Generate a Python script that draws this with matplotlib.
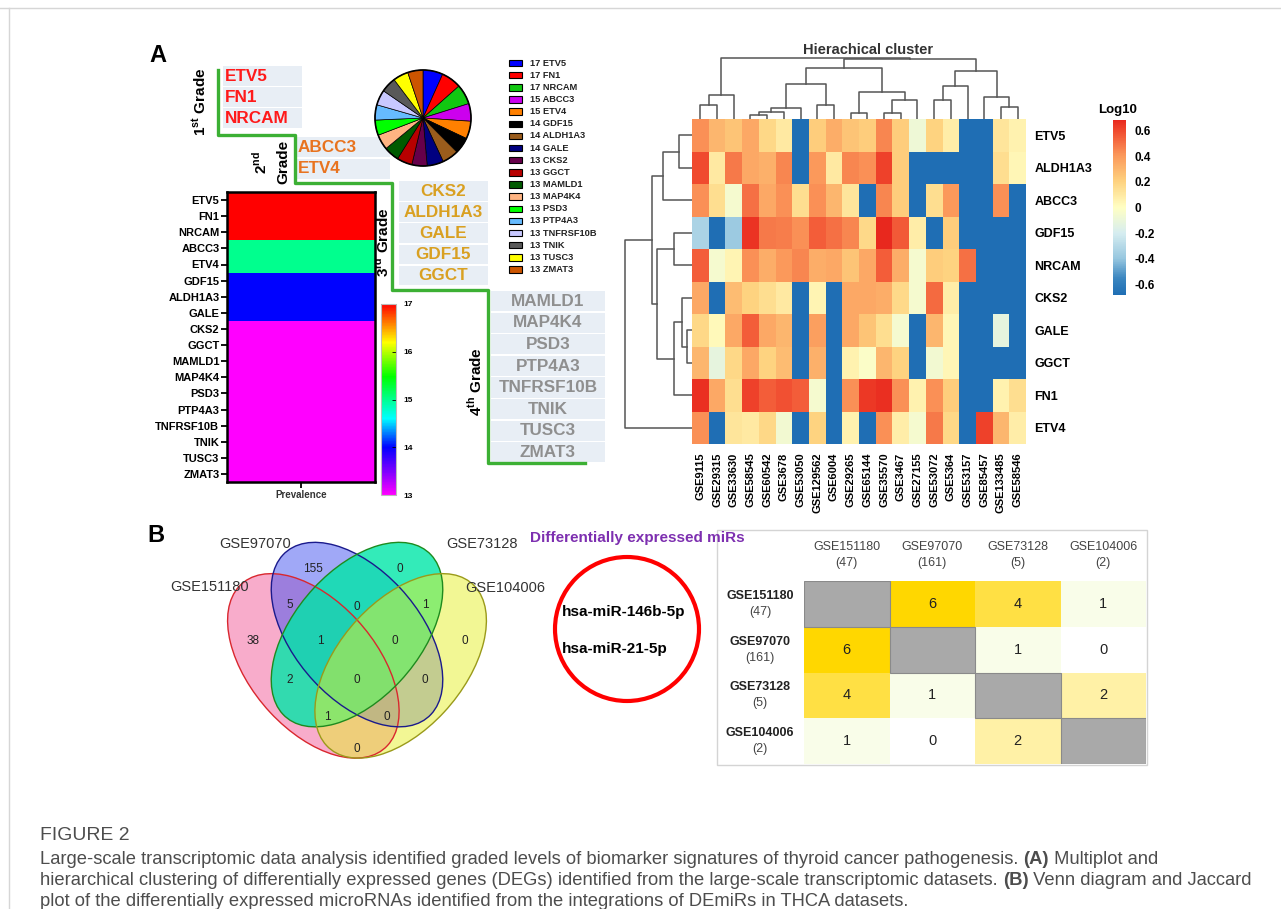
import numpy as np
import matplotlib
matplotlib.use("Agg")
import matplotlib.pyplot as plt
from matplotlib.colors import LinearSegmentedColormap, Normalize
from matplotlib.cm import ScalarMappable
from matplotlib.patches import Rectangle, Ellipse, Circle

plt.rcParams['font.family'] = ['Liberation Sans', 'DejaVu Sans']
plt.rcParams['mathtext.fontset'] = 'custom'
plt.rcParams['mathtext.rm'] = 'Liberation Sans'
plt.rcParams['mathtext.bf'] = 'Liberation Sans:bold'

W, H = 1281, 909

# ---------------- data ----------------
prev_genes = ["ETV5", "FN1", "NRCAM", "ABCC3", "ETV4", "GDF15", "ALDH1A3", "GALE", "CKS2",
              "GGCT", "MAMLD1", "MAP4K4", "PSD3", "PTP4A3", "TNFRSF10B", "TNIK", "TUSC3", "ZMAT3"]
prev_counts = [17, 17, 17, 15, 15, 14, 14, 14, 13, 13, 13, 13, 13, 13, 13, 13, 13, 13]
pie_colors = ["#0000ff", "#ff0000", "#11c811", "#cc00ee", "#ff8000", "#000000", "#9a5c1c",
              "#000080", "#66004a", "#b80000", "#005a00", "#ffb482", "#00ff00", "#66bbff",
              "#c8c8ff", "#595959", "#ffff00", "#cc5500"]

grade1 = ["ETV5", "FN1", "NRCAM"]
grade2 = ["ABCC3", "ETV4"]
grade3 = ["CKS2", "ALDH1A3", "GALE", "GDF15", "GGCT"]
grade4 = ["MAMLD1", "MAP4K4", "PSD3", "PTP4A3", "TNFRSF10B", "TNIK", "TUSC3", "ZMAT3"]

hm_rows = ["ETV5", "ALDH1A3", "ABCC3", "GDF15", "NRCAM", "CKS2", "GALE", "GGCT", "FN1", "ETV4"]
hm_cols = ["GSE9115", "GSE29315", "GSE33630", "GSE58545", "GSE60542", "GSE3678", "GSE53050",
           "GSE129562", "GSE6004", "GSE29265", "GSE65144", "GSE35570", "GSE3467", "GSE27155",
           "GSE53072", "GSE5364", "GSE53157", "GSE85457", "GSE133485", "GSE58546"]
B = -0.7
hm_vals = [
    [0.42, 0.30, 0.25, 0.35, 0.18, 0.10, B, 0.22, 0.33, 0.25, 0.22, 0.45, 0.22, -0.08, 0.20, 0.08, B, B, 0.12, 0.06],
    [0.60, 0.10, 0.48, 0.35, 0.32, 0.45, B, 0.40, 0.10, 0.45, 0.42, 0.62, 0.22, B, B, B, B, B, 0.15, 0.04],
    [0.42, 0.15, -0.05, 0.50, 0.35, 0.42, 0.15, 0.42, 0.30, 0.12, B, 0.45, 0.22, B, 0.15, 0.40, B, B, 0.42, B],
    [-0.33, B, -0.38, 0.65, 0.48, 0.47, 0.42, 0.55, 0.50, 0.45, 0.17, 0.68, 0.56, 0.08, B, 0.22, B, B, B, B],
    [0.55, -0.05, 0.05, 0.42, 0.33, 0.40, 0.45, 0.33, 0.35, 0.25, 0.35, 0.55, 0.33, -0.05, 0.22, 0.20, 0.50, B, B, B],
    [0.35, B, 0.28, 0.20, 0.15, 0.10, B, 0.05, B, 0.35, 0.35, 0.33, 0.17, -0.05, 0.52, 0.08, B, B, B, B],
    [0.18, 0.03, 0.35, 0.55, 0.35, 0.30, B, 0.38, B, 0.35, 0.25, 0.15, -0.05, B, 0.30, 0.04, B, B, -0.12, B],
    [0.30, -0.12, 0.18, 0.35, 0.20, 0.28, B, 0.32, B, 0.06, -0.02, 0.30, 0.20, B, -0.06, 0.04, B, B, B, B],
    [0.66, 0.35, 0.15, 0.62, 0.55, 0.58, 0.55, -0.05, B, 0.42, 0.64, 0.66, 0.42, 0.06, 0.42, 0.22, B, B, 0.06, 0.15],
    [0.42, B, 0.12, 0.10, 0.18, -0.06, B, 0.20, B, 0.06, B, 0.42, 0.08, -0.05, 0.48, 0.18, B, 0.62, 0.30, 0.08],
]
# linkage: (child a, child b, height); ids >= n are earlier merges
col_link = [(3, 4, 4), (20, 5, 7.3), (21, 6, 11.3), (7, 8, 14), (0, 1, 14), (24, 2, 24.3),
            (22, 23, 35), (9, 10, 6), (11, 12, 6), (28, 13, 19), (27, 29, 27.3), (26, 30, 50.7),
            (14, 15, 19), (32, 16, 33), (18, 19, 12.3), (17, 34, 21.7), (33, 35, 48.3),
            (31, 36, 60), (25, 37, 61)]
row_link = [(0, 1, 12.7), (10, 2, 29), (3, 4, 18.3), (6, 7, 5), (5, 13, 10), (14, 8, 18.3),
            (12, 15, 35), (11, 16, 40), (17, 9, 66.7)]

venn_sets = ["GSE151180", "GSE97070", "GSE73128", "GSE104006"]
venn_counts = {"B": 155, "G": 0, "PB": 5, "BG": 0, "GY": 1, "P": 38, "PBG": 1, "BGY": 0,
               "Y": 0, "PG": 2, "PBGY": 0, "BY": 0, "PGY": 1, "PBY": 0, "PY": 0}
mirs = ["hsa-miR-146b-5p", "hsa-miR-21-5p"]
jac_names = ["GSE151180", "GSE97070", "GSE73128", "GSE104006"]
jac_sizes = [47, 161, 5, 2]
jac_matrix = [[np.nan, 6, 4, 1], [6, np.nan, 1, 0], [4, 1, np.nan, 2], [1, 0, 2, np.nan]]


def fig_rect(x0, y0, x1, y1):
    return [x0 / W, 1 - y1 / H, (x1 - x0) / W, (y1 - y0) / H]


fig = plt.figure(figsize=(W / 100, H / 100), dpi=100)
ov = fig.add_axes([0, 0, 1, 1])
ov.set_xlim(0, W)
ov.set_ylim(H, 0)
ov.axis('off')

# page frame lines
ov.plot([0, W], [8, 8], color='#d6d6d6', lw=1)
ov.plot([9, 9], [8, H], color='#d6d6d6', lw=1)

ov.text(158, 55, "A", fontsize=17, fontweight='bold', ha='center', va='center')
ov.text(156, 535, "B", fontsize=17, fontweight='bold', ha='center', va='center')

# ---------------- grades ----------------
ov.plot([218, 218, 295, 295, 392, 392, 488, 488, 585],
        [70, 135, 135, 183, 183, 290, 290, 463, 463], color='#3cb034', lw=2.4, zorder=1)

grade_layout = [
    (grade1, 223, 302, 66, 21.2, 'left', 225, '#ff1a1a'),
    (grade2, 297, 390, 137, 21.5, 'left', 298, '#e8731f'),
    (grade3, 399, 488, 181, 21.2, 'center', 443.5, '#d9a021'),
    (grade4, 491, 605, 291, 21.6, 'center', 548, '#8f8f8f'),
]
for genes, x0, x1, y0, rh, ha, tx, col in grade_layout:
    for i, g in enumerate(genes):
        ov.add_patch(Rectangle((x0, y0 + i * rh), x1 - x0, rh - 1.5, facecolor='#e8eef5',
                               edgecolor='none', zorder=0))
        ov.text(tx, y0 + i * rh + rh / 2 - 0.5, g, fontsize=12.3, fontweight='bold', color=col,
                ha=ha, va='center', zorder=2)

ov.text(200, 102, r"1$^{\mathbf{st}}$ Grade", rotation=90, fontsize=11, fontweight='bold',
        ha='center', va='center')
ov.text(260, 163, r"2$^{\mathbf{nd}}$", rotation=90, fontsize=11, fontweight='bold',
        ha='center', va='center')
ov.text(283, 162, "Grade", rotation=90, fontsize=11, fontweight='bold', ha='center', va='center')
ov.text(382, 242, r"3$^{\mathbf{rd}}$ Grade", rotation=90, fontsize=11, fontweight='bold',
        ha='center', va='center')
ov.text(475, 382, r"4$^{\mathbf{th}}$ Grade", rotation=90, fontsize=11, fontweight='bold',
        ha='center', va='center')

# ---------------- prevalence strip ----------------
prev_cmap = LinearSegmentedColormap.from_list("prev", [
    (0.0, "#ff00ff"), (0.12, "#8000ff"), (0.25, "#0000ff"), (0.4, "#00ffff"),
    (0.5, "#00ff90"), (0.62, "#00ff00"), (0.8, "#ffff00"), (0.9, "#ff8000"), (1.0, "#ff0000")])
axp = fig.add_axes(fig_rect(227, 192, 375, 482))
axp.pcolormesh([0, 1], np.arange(len(prev_genes) + 1), np.array(prev_counts)[:, None],
               cmap=prev_cmap, vmin=13, vmax=17)
axp.set_ylim(len(prev_genes), 0)
axp.set_xlim(0, 1)
axp.set_yticks(np.arange(len(prev_genes)) + 0.5)
axp.set_yticklabels(prev_genes, fontsize=8, fontweight='bold')
axp.set_xticks([0.5])
axp.set_xticklabels(["Prevalence"], fontsize=7, fontweight='bold', color='#333333')
axp.tick_params(axis='both', length=4, width=1.3, pad=1.5)
for s in axp.spines.values():
    s.set_linewidth(1.8)

cax1 = fig.add_axes(fig_rect(381, 304, 396, 495))
cb1 = fig.colorbar(ScalarMappable(Normalize(13, 17), prev_cmap), cax=cax1, ticks=[13, 14, 15, 16, 17])
cb1.ax.tick_params(labelsize=6, length=3, width=0.6, direction='in', pad=5)
for lab in cb1.ax.get_yticklabels():
    lab.set_fontweight('bold')
cb1.outline.set_edgecolor('#bbbbbb')
cb1.outline.set_linewidth(0.8)

# ---------------- pie ----------------
axpie = fig.add_axes(fig_rect(363, 58, 483, 178))
axpie.pie(prev_counts, colors=pie_colors, startangle=90, counterclock=False,
          wedgeprops=dict(edgecolor='black', linewidth=0.5))
axpie.add_patch(Circle((0, 0), 1, fill=False, edgecolor='black', lw=1.2))
axpie.set_aspect('equal')

for i, (g, c) in enumerate(zip(prev_genes, prev_counts)):
    yy = 63 + i * 12.15
    ov.add_patch(Rectangle((509, yy - 3.2), 13, 6.4, facecolor=pie_colors[i], edgecolor='black',
                           lw=0.8))
    ov.text(530, yy, f"{c} {g}", fontsize=6.7, fontweight='bold', color='#222222',
            ha='left', va='center')

# ---------------- clustered heatmap ----------------
hm_cmap = LinearSegmentedColormap.from_list("hm", [
    (0.0, "#1f6eb4"), ((-0.55 + 0.68) / 1.36, "#3b86c0"), ((-0.4 + 0.68) / 1.36, "#96c6df"),
    ((-0.2 + 0.68) / 1.36, "#d6edf0"), (0.5, "#ffffc4"), ((0.2 + 0.68) / 1.36, "#fed380"),
    ((0.4 + 0.68) / 1.36, "#fb9a5c"), ((0.6 + 0.68) / 1.36, "#f04a2e"), (1.0, "#e8281e")])
hm_norm = Normalize(-0.68, 0.68)
axh = fig.add_axes(fig_rect(692, 119, 1026, 444))
axh.pcolormesh(np.arange(len(hm_cols) + 1), np.arange(len(hm_rows) + 1), np.array(hm_vals),
               cmap=hm_cmap, norm=hm_norm)
axh.set_ylim(len(hm_rows), 0)
axh.set_xlim(0, len(hm_cols))
axh.yaxis.tick_right()
axh.set_yticks(np.arange(len(hm_rows)) + 0.5)
axh.set_yticklabels(hm_rows, fontsize=9, fontweight='bold')
axh.set_xticks(np.arange(len(hm_cols)) + 0.5)
axh.set_xticklabels(hm_cols, fontsize=8, fontweight='bold', rotation=90)
axh.tick_params(length=0, pad=6)
for s in axh.spines.values():
    s.set_visible(False)


def dendro(ax, links, n, orient):
    pos = {i: i + 0.5 for i in range(n)}
    hgt = {i: 0.0 for i in range(n)}
    for k, (a, b, h) in enumerate(links):
        xs = [pos[a], pos[a], pos[b], pos[b]]
        ys = [hgt[a], h, h, hgt[b]]
        if orient == 'top':
            ax.plot(xs, ys, color='#555555', lw=1.1)
        else:
            ax.plot(ys, xs, color='#555555', lw=1.1)
        pos[n + k] = (pos[a] + pos[b]) / 2
        hgt[n + k] = h


axcd = fig.add_axes(fig_rect(692, 55, 1026, 119))
dendro(axcd, col_link, len(hm_cols), 'top')
axcd.set_xlim(0, len(hm_cols))
axcd.set_ylim(0, 64)
axcd.axis('off')

axrd = fig.add_axes(fig_rect(624, 119, 692, 444))
dendro(axrd, row_link, len(hm_rows), 'left')
axrd.set_ylim(len(hm_rows), 0)
axrd.set_xlim(68, 0)
axrd.axis('off')

ov.text(868, 50, "Hierachical cluster", fontsize=10.5, fontweight='bold', color='#333333',
        ha='center', va='center')

cax2 = fig.add_axes(fig_rect(1113, 120, 1126, 295))
cb2 = fig.colorbar(ScalarMappable(hm_norm, hm_cmap), cax=cax2,
                   ticks=[-0.6, -0.4, -0.2, 0, 0.2, 0.4, 0.6])
cb2.ax.set_yticklabels(["-0.6", "-0.4", "-0.2", "0", "0.2", "0.4", "0.6"])
cb2.ax.tick_params(labelsize=8.5, length=0, pad=6)
for lab in cb2.ax.get_yticklabels():
    lab.set_fontweight('bold')
cb2.outline.set_visible(False)
ov.text(1118, 110, "Log10", fontsize=9.5, fontweight='bold', ha='center', va='center')

# ---------------- Venn ----------------
axv = fig.add_axes(fig_rect(211.5, 500, 502.5, 813))
axv.set_xlim(0, 1)
axv.set_ylim(0, 1)
axv.axis('off')
venn_shapes = [((0.35, 0.47), -45, "#f25a99", 0.5, "#d9272e"),
               ((0.5, 0.57), -45, "#4252f0", 0.5, "#1a1a8c"),
               ((0.5, 0.57), 45, "#00e6a8", 0.8, "#1e8a1e"),
               ((0.65, 0.47), 45, "#e6f02a", 0.5, "#9a9a1a")]
for (c, ang, fc, al, ec) in venn_shapes:
    axv.add_patch(Ellipse(c, 0.72, 0.42, angle=ang, facecolor=fc, alpha=al, edgecolor='none'))
for (c, ang, fc, al, ec) in venn_shapes:
    axv.add_patch(Ellipse(c, 0.72, 0.42, angle=ang, facecolor='none', edgecolor=ec, lw=1))
venn_label_pos = {"B": (0.349, 0.778), "G": (0.648, 0.778), "PB": (0.27, 0.666),
                  "BG": (0.5, 0.659), "GY": (0.734, 0.666), "P": (0.143, 0.548),
                  "PBG": (0.373, 0.548), "BGY": (0.631, 0.548), "Y": (0.871, 0.548),
                  "PG": (0.27, 0.426), "PBGY": (0.5, 0.426), "BY": (0.734, 0.426),
                  "PGY": (0.397, 0.308), "PBY": (0.603, 0.308), "PY": (0.5, 0.203)}
for k, v in venn_counts.items():
    x, y = venn_label_pos[k]
    axv.text(x, y, str(v), fontsize=8.5, color='#222222', ha='center', va='center')
for name, (x, y) in zip(venn_sets, [(-0.005, 0.723), (0.149, 0.858), (0.93, 0.858), (1.009, 0.72)]):
    axv.text(x, y, name, fontsize=10.5, color='#333333', ha='center', va='center', clip_on=False)

# ---------------- miRs ----------------
ov.text(637, 538, "Differentially expressed miRs", fontsize=11, fontweight='bold',
        color='#7d2fb0', ha='center', va='center')
ov.add_patch(Circle((627, 629), 72, fill=False, edgecolor='#ff0000', lw=3))
for i, m in enumerate(mirs):
    ov.text(562, 612 + i * 37, m, fontsize=11, fontweight='bold', ha='left', va='center')

# ---------------- Jaccard table ----------------
ov.add_patch(Rectangle((717, 530), 430, 235, fill=False, edgecolor='#d4d4d4', lw=1))
jac_cmap = LinearSegmentedColormap.from_list("jac", [
    (0.0, "#ffffff"), (1 / 6, "#f9fde9"), (2 / 6, "#fff1a6"), (4 / 6, "#ffe044"), (1.0, "#ffd700")])
axj = fig.add_axes(fig_rect(804, 581, 1146, 764))
jm = np.ma.masked_invalid(np.array(jac_matrix, dtype=float))
axj.pcolormesh(np.arange(5), np.arange(5), jm, cmap=jac_cmap, vmin=0, vmax=6)
for i in range(4):
    axj.add_patch(Rectangle((i, i), 1, 1, facecolor='#a9a9a9', edgecolor='#8a8a8a', lw=0.8))
    for j in range(4):
        if not np.isnan(jac_matrix[i][j]):
            axj.text(j + 0.5, i + 0.5, str(int(jac_matrix[i][j])), fontsize=10.5, color='#222222',
                     ha='center', va='center')
axj.set_xlim(0, 4)
axj.set_ylim(4, 0)
axj.axis('off')
cell_w = (1146 - 804) / 4
cell_h = (764 - 581) / 4
for i, (nm, sz) in enumerate(zip(jac_names, jac_sizes)):
    cx = 804 + (i + 0.5) * cell_w
    ov.text(cx, 547, nm, fontsize=9, color='#444444', ha='center', va='center')
    ov.text(cx, 563, f"({sz})", fontsize=9, color='#444444', ha='center', va='center')
    cy = 581 + (i + 0.5) * cell_h
    ov.text(760, cy - 8, nm, fontsize=9, fontweight='bold', color='#222222', ha='center', va='center')
    ov.text(760, cy + 8, f"({sz})", fontsize=9, color='#444444', ha='center', va='center')

# ---------------- caption ----------------
cap_family = ['Liberation Sans', 'DejaVu Sans']
cap_lines = [
    [("Large-scale transcriptomic data analysis identified graded levels of biomarker signatures "
      "of thyroid cancer pathogenesis. ", False), ("(A)", True), (" Multiplot and", False)],
    [("hierarchical clustering of differentially expressed genes (DEGs) identified from the "
      "large-scale transcriptomic datasets. ", False), ("(B)", True), (" Venn diagram and Jaccard", False)],
    [("plot of the differentially expressed microRNAs identified from the integrations of DEmiRs "
      "in THCA datasets.", False)],
]
renderer = fig.canvas.get_renderer()


def line_width(parts, size):
    tot = 0
    for s, bold in parts:
        t = ov.text(0, 0, s, fontsize=size, family=cap_family,
                    fontweight='bold' if bold else 'normal')
        tot += t.get_window_extent(renderer=renderer).width
        t.remove()
    return tot


cap_size = 10 * 1222 / line_width(cap_lines[1], 10)
ov.text(40, 836, "FIGURE 2", fontsize=cap_size * 1.05, family=cap_family, color='#4d4d4d',
        ha='left', va='center')
for li, parts in enumerate(cap_lines):
    x = 40
    y = 859 + li * 21.5
    for s, bold in parts:
        t = ov.text(x, y, s, fontsize=cap_size, family=cap_family, color='#4d4d4d',
                    fontweight='bold' if bold else 'normal', ha='left', va='center')
        x += t.get_window_extent(renderer=renderer).width

fig.savefig("out.png", dpi=100)
